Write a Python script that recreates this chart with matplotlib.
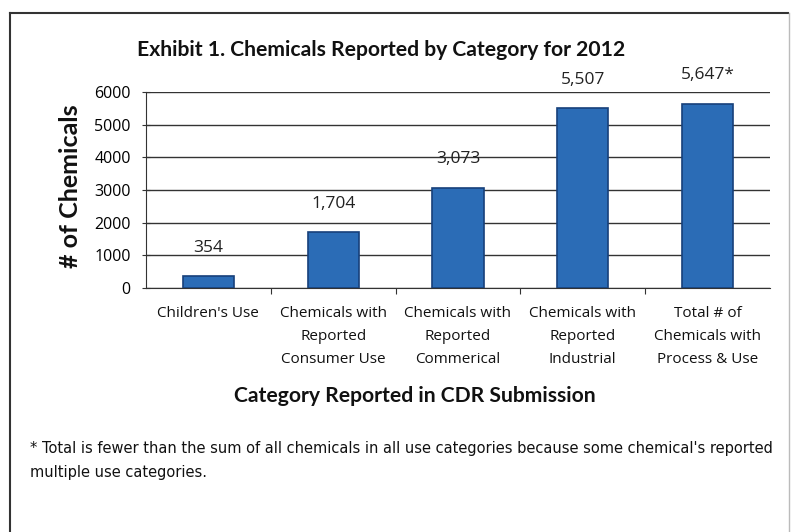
import matplotlib
matplotlib.use("Agg")
import matplotlib.pyplot as plt
from matplotlib.lines import Line2D

plt.rcParams['font.family'] = ['Open Sans', 'DejaVu Sans']

categories = ["Children's Use",
              "Chemicals with\nReported\nConsumer Use",
              "Chemicals with\nReported\nCommerical",
              "Chemicals with\nReported\nIndustrial",
              "Total # of\nChemicals with\nProcess & Use"]
values = [354, 1704, 3073, 5507, 5647]
labels = ["354", "1,704", "3,073", "5,507", "5,647*"]
yticks = [0, 1000, 2000, 3000, 4000, 5000, 6000]

W, H = 792, 532
fig = plt.figure(figsize=(W/100, H/100), dpi=100)
ax = fig.add_axes([146/W, 1-288/H, 624/W, 196/H])

x = list(range(len(categories)))
ax.bar(x, values, width=0.41, color='#2b6cb6', edgecolor='#17407a', linewidth=1.2, zorder=3)
for xi, v, lab in zip(x, values, labels):
    ax.text(xi, v + 620, lab, ha='center', va='bottom', fontsize=12.5, color='#222222')

ax.set_xlim(-0.5, len(categories) - 0.5)
ax.set_ylim(0, 6000)
ax.set_yticks(yticks)
ax.set_yticklabels([str(t) for t in yticks], fontsize=11.5)
ax.yaxis.grid(True, color='#333333', linewidth=1.0, zorder=0)
ax.set_xticks([i - 0.5 for i in range(1, len(categories))])
ax.set_xticklabels([])
ax.tick_params(axis='x', length=4, color='#333333', direction='out')
ax.tick_params(axis='y', length=6, color='#333333', direction='inout', pad=8)
for xi, c in zip(x, categories):
    ax.text(xi, -560, c, ha='center', va='top', fontsize=11, color='#111111', linespacing=1.7)
for s in ['top', 'right']:
    ax.spines[s].set_visible(False)
ax.spines['left'].set_color('#333333')
ax.spines['bottom'].set_color('#333333')

fig.text(381/W, 1-50/H, "Exhibit 1. Chemicals Reported by Category for 2012",
         ha='center', va='center', fontsize=15.2, fontweight='bold', color='#111111',
         family=['Lato', 'DejaVu Sans'])
fig.text(70/W, 1-186/H, "# of Chemicals", ha='center', va='center', rotation=90,
         fontsize=18, fontweight='bold', color='#111111', family=['Lato', 'DejaVu Sans'])
fig.text(415/W, 1-396/H, "Category Reported in CDR Submission", ha='center', va='center',
         fontsize=15.2, fontweight='bold', color='#111111', family=['Lato', 'DejaVu Sans'])
fig.text(30/W, 1-448/H, "* Total is fewer than the sum of all chemicals in all use categories because some chemical's reported",
         ha='left', va='center', fontsize=10.5, color='#111111', family=['DejaVu Sans'])
fig.text(30/W, 1-472/H, "multiple use categories.", ha='left', va='center', fontsize=10.5, color='#111111',
         family=['DejaVu Sans'])

# outer border
fig.add_artist(Line2D([10/W, 10/W], [1-13/H, 0], transform=fig.transFigure, color='#333333', linewidth=1.5))
fig.add_artist(Line2D([10/W, 788/W], [1-13/H, 1-13/H], transform=fig.transFigure, color='#333333', linewidth=1.5))
fig.add_artist(Line2D([789/W, 789/W], [1-13/H, 0], transform=fig.transFigure, color='#bbbbbb', linewidth=1.0))

fig.savefig("out.png", dpi=100, facecolor='white')
